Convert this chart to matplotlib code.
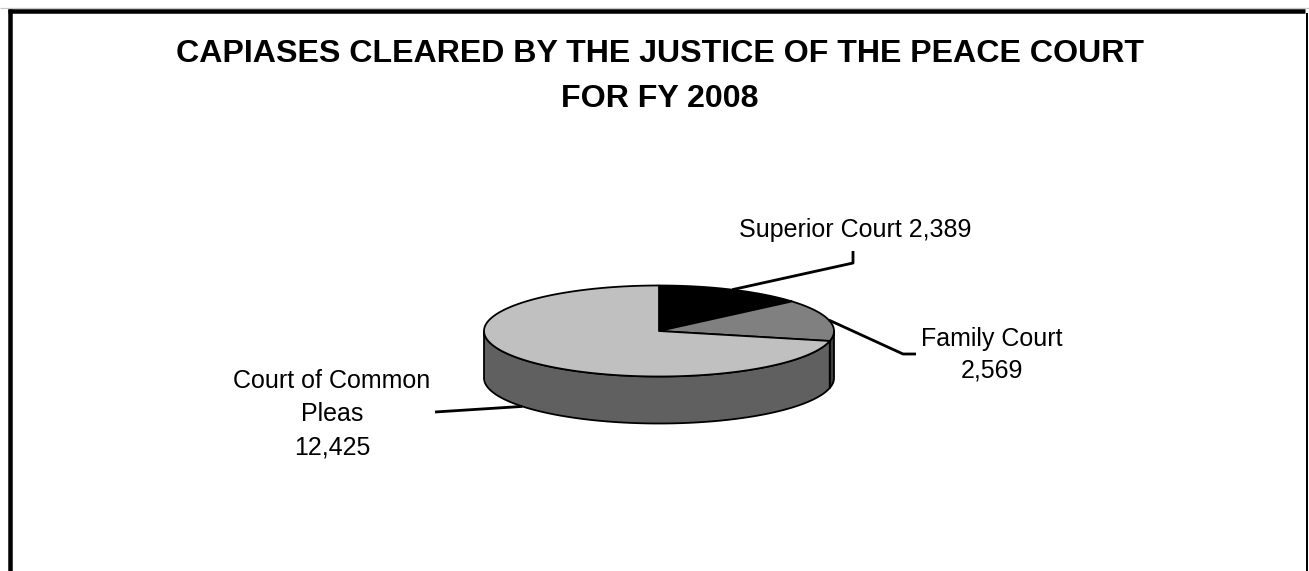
import numpy as np
import matplotlib
matplotlib.use("Agg")
import matplotlib.pyplot as plt
from matplotlib.patches import Polygon

plt.rcParams['font.family'] = ['Liberation Sans', 'DejaVu Sans']

# ---- data ----
categories = ["Superior Court", "Family Court", "Court of Common\nPleas"]
values = [2389, 2569, 12425]
value_labels = ["2,389", "2,569", "12,425"]
top_colors = ["#000000", "#808080", "#C0C0C0"]
side_colors = ["#000000", "#404040", "#606060"]
title = "CAPIASES CLEARED BY THE JUSTICE OF THE PEACE COURT\nFOR FY 2008"

W, H = 1309, 571
fig = plt.figure(figsize=(W / 100, H / 100), dpi=100)
ax = fig.add_axes([0, 0, 1, 1])
ax.set_xlim(0, W)
ax.set_ylim(H, 0)
ax.axis('off')

px = 72 / 100  # points per pixel

# frame
ax.plot([0, W], [8, 8], color="#c8c8c8", lw=1.2 * px, solid_capstyle='butt')
ax.plot([8, 1305], [11, 11], color="black", lw=4.5 * px, solid_capstyle='butt')
ax.plot([10, 10], [9, H + 5], color="black", lw=4.5 * px, solid_capstyle='butt')
ax.plot([1307, 1307], [13, H + 5], color="black", lw=2 * px, solid_capstyle='butt')

# title
ax.text(660, 76.5, title, ha='center', va='center', fontsize=23.1, fontweight='bold',
        linespacing=1.63)

# ---- 3D pie geometry ----
cx, cy = 659, 331
a, b, depth = 175, 45.5, 47


def pt(theta_deg, dy=0.0):
    t = np.deg2rad(theta_deg)
    return cx + a * np.cos(t), cy - b * np.sin(t) + dy


total = float(sum(values))
sweeps = [v / total * 360.0 for v in values]
starts = []
ang = 90.0
for s in sweeps:
    starts.append(ang)
    ang -= s
ends = [st - s for st, s in zip(starts, sweeps)]

lw = 1.8 * px

# side walls (front half only)
for st, en, sc in zip(starts, ends, side_colors):
    lo, hi = en, st
    segs = []
    for k in (-360, 0, 360):
        l2, h2 = max(lo + k, -180), min(hi + k, 0)
        if h2 > l2:
            segs.append((l2, h2))
    for l2, h2 in segs:
        th = np.linspace(h2, l2, 200)
        topx, topy = zip(*[pt(t) for t in th])
        botx, boty = zip(*[pt(t, depth) for t in th[::-1]])
        poly = np.column_stack([list(topx) + list(botx), list(topy) + list(boty)])
        ax.add_patch(Polygon(poly, closed=True, facecolor=sc, edgecolor='black',
                             lw=lw, joinstyle='round'))

# top faces
for st, en, tc in zip(starts, ends, top_colors):
    th = np.linspace(st, en, 300)
    arc = [pt(t) for t in th]
    poly = np.array([(cx, cy)] + arc)
    ax.add_patch(Polygon(poly, closed=True, facecolor=tc, edgecolor='black',
                         lw=lw, joinstyle='round'))

# ---- labels & leader lines ----
mids = [(st + en) / 2 for st, en in zip(starts, ends)]
fs = 18
llw = 2.8 * px

# Superior Court
x0, y0 = pt(mids[0])
ax.plot([x0, 853, 853], [y0, 263, 251], color='black', lw=llw, solid_capstyle='butt')
ax.text(855, 230, f"{categories[0]} {value_labels[0]}", ha='center', va='center', fontsize=fs)

# Family Court
x1, y1 = pt(mids[1])
ax.plot([x1, 903, 916], [y1, 354, 354], color='black', lw=llw, solid_capstyle='butt')
ax.text(992, 355, f"{categories[1]}\n{value_labels[1]}", ha='center', va='center',
        fontsize=fs, linespacing=1.37)

# Court of Common Pleas
x2, y2 = pt(mids[2], depth)
ax.plot([x2, 435], [y2, 412], color='black', lw=llw, solid_capstyle='butt')
ax.text(332, 414, f"{categories[2]}\n{value_labels[2]}", ha='center', va='center',
        fontsize=fs, linespacing=1.48)

fig.savefig("out.png", dpi=100)
